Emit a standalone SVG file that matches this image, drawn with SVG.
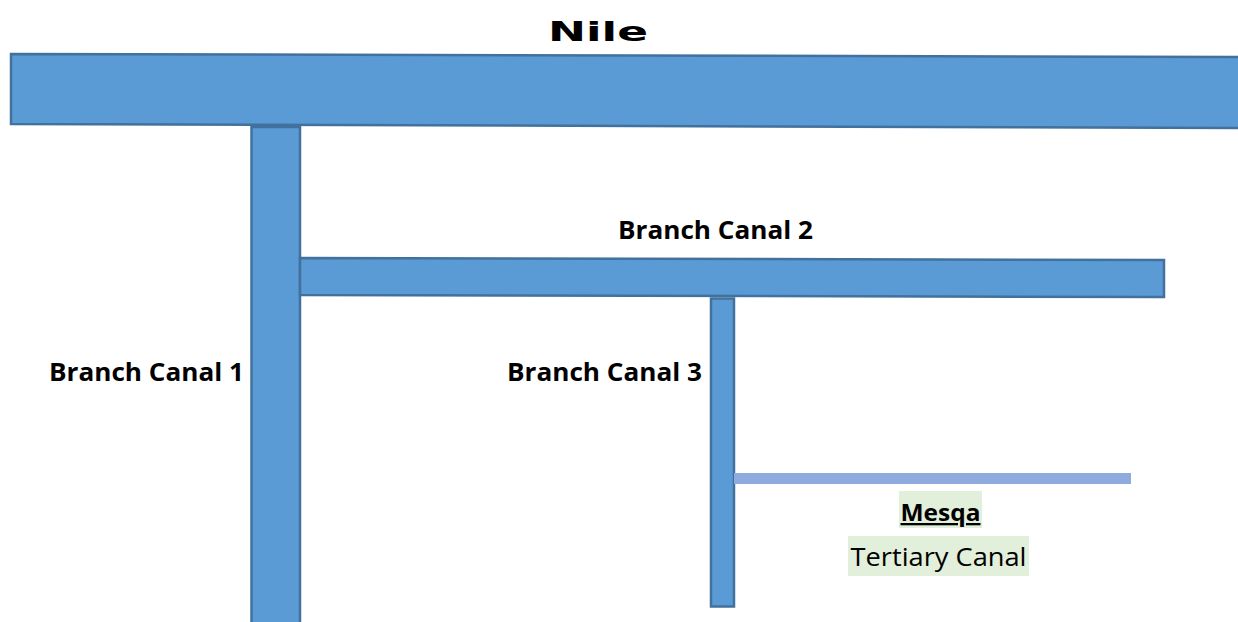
<svg xmlns="http://www.w3.org/2000/svg" width="1238" height="622" viewBox="0 0 1238 622">
<style>
.canal{fill:#5b9bd5;stroke:#41719c;stroke-width:2.5}
.lbl{font-family:"Open Sans","Liberation Sans",sans-serif;font-weight:bold;font-size:25px;fill:#000}
.hl{fill:#e2efda}
</style>
<rect width="1238" height="622" fill="#fff"/>
<g id="nile">
<polygon class="canal" points="11,54 1240,57 1240,128 11,124"/>
<text x="598" y="41" text-anchor="middle" font-family="'DejaVu Sans',sans-serif" font-weight="bold" font-size="27" textLength="100" lengthAdjust="spacingAndGlyphs">Nile</text>
</g>
<g id="branch1">
<rect class="canal" x="251.5" y="127" width="48.5" height="500"/>
<text class="lbl" x="49" y="381" textLength="195" lengthAdjust="spacingAndGlyphs">Branch Canal 1</text>
</g>
<g id="branch2">
<polygon class="canal" points="300,258 1164,260 1164,297 300,295"/>
<text class="lbl" x="618" y="239" textLength="195" lengthAdjust="spacingAndGlyphs">Branch Canal 2</text>
</g>
<g id="branch3">
<rect class="canal" x="711" y="298.5" width="23" height="308"/>
<text class="lbl" x="507" y="381" textLength="195" lengthAdjust="spacingAndGlyphs">Branch Canal 3</text>
</g>
<g id="connectors">
<rect id="mesqa-line" x="734" y="473" width="397" height="11" fill="#8faadc"/>
</g>
<g id="mesqa">
<rect class="hl" x="899" y="491" width="83" height="37"/>
<text x="940.5" y="521" text-anchor="middle" font-family="'Open Sans','Liberation Sans',sans-serif" font-weight="bold" font-size="23" textLength="80" lengthAdjust="spacingAndGlyphs" text-decoration="underline">Mesqa</text>
<rect class="hl" x="848" y="536" width="181" height="40"/>
<text x="938.5" y="566" text-anchor="middle" font-family="'Open Sans','Liberation Sans',sans-serif" font-size="26" textLength="176" lengthAdjust="spacingAndGlyphs">Tertiary Canal</text>
</g>
</svg>
